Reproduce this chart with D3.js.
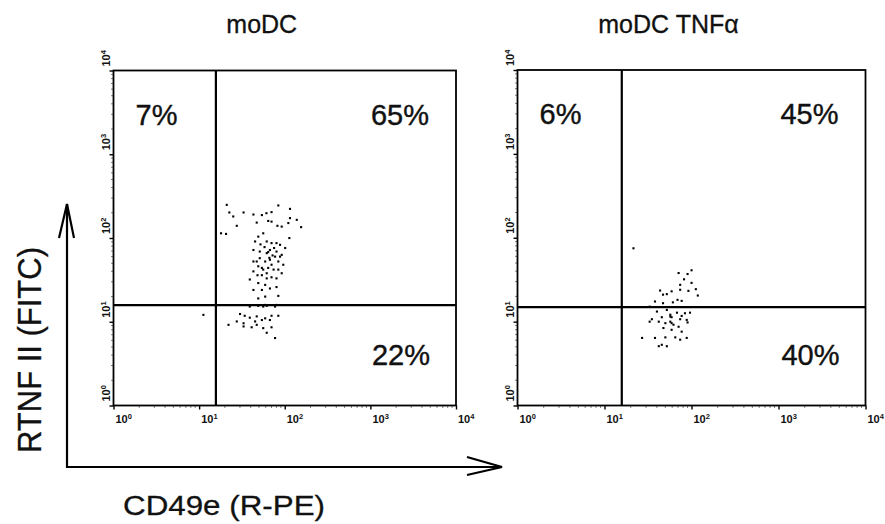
<!DOCTYPE html>
<html>
<head>
<meta charset="utf-8">
<script src="https://cdn.jsdelivr.net/npm/d3@7"></script>
<style>
  html, body { margin: 0; padding: 0; background: #fff; }
  svg { display: block; font-family: "Liberation Sans", Arial, Helvetica, sans-serif; }
</style>
</head>
<body>
<script>
// ---------------- DATA ----------------
const panelTitles = ["moDC", "moDC TNFα"];
const tickValues = [1, 10, 100, 1000, 10000];
const tickExponents = ["0", "1", "2", "3", "4"];
const gateX = [15.7, 15.8];
const gateY = [15.8, 14.9];
const pctUpperLeft = ["7%", "6%"];
const pctUpperRight = ["65%", "45%"];
const pctLowerRight = ["22%", "40%"];
const xAxisTitle = "CD49e (R-PE)";
const yAxisTitle = "RTNF II (FITC)";

// events [CD49e, RTNF II] — moDC
const eventsMoDC = [
  [21,249],[22.5,202],[25,181],[33,202],[43,191],[54,188],[61,198],[70,204],[84,245],[115,223],
  [138,165],[155,135],[115,173],[110,151],[92,137],[82,140],[70,157],[64,160],[47,153],[27.5,140],
  [18,114],[20.6,112],[56,114],[49,104],[45,91],[61.5,91],[70,87],[80,87],[88,83],[101,76],
  [113,100],[43,72],[51,69],[61.5,66],[67,72],[80,69],[92,63],[77,60],[51,57.5],[47,52.5],
  [59,52.5],[67,55],[84,52.5],[96,48],[49,46],[56,42],[64,44],[74,42],[84,42],[92,38],
  [43,40],[54,36],[61.5,33],[70,34],[80,33],[39,32],[49,29],[59,27.6],[67,25],[43,24],
  [54,24],[80,26],[49,19],[59,20],[84,20.4],[39,15.2],[49,15.5],[59,15.9],[80,15.9],[30,12.4],
  [34,11.8],[39,11.2],[47,11.6],[59,11],[70,11.8],[84,11.8],[27.5,10.1],[33,9.6],[45,10.1],[54,10.5],
  [67,10.5],[33,8.8],[41,8.6],[47,9.2],[56,8.4],[70,8.6],[61.5,7.4],[77,6.4],[11.2,12.1],[22,9.2],
  [56,15.2],[61.5,15.5],[77,15.2],[70,48],[54,44],[88,60],[43,52.5],[61.5,38],[64,68],[72,62],
  [58,78],[52,84],[75,76],[66,58],[48,36]
];
// events [CD49e, RTNF II] — moDC TNFα
const eventsTNF = [
  [21.5,75],[100,41],[90,37],[71,38],[82,32],[100,29],[74,27.5],[112,24.4],[92,23.3],[74,24],
  [43.5,23.5],[118,20.5],[52,21.3],[59,23],[47,21],[69,18.2],[77,17.7],[61,17],[47,16.6],[38,17.4],
  [33,15.1],[52,13.8],[40,13.2],[68,12.8],[84,12.6],[96,12.8],[57,12.1],[77,11.7],[45.5,11.3],[35,10.7],
  [59,11.3],[74,10.7],[88,10.5],[57,10],[42,10],[33,10],[50,9.6],[62,9.2],[90,9.8],[47.5,8.4],
  [71,8.7],[77,7.6],[59,8],[27,6.4],[38,6.4],[50,6.5],[65,6.5],[88,6.4],[74,6.1],[45.5,5.3],
  [52,5.1],[42,5.1],[57,11.5],[59,9.6]
];
const panelEvents = [eventsMoDC, eventsTNF];

// ---------------- LAYOUT ----------------
const W = 885, H = 524;
const boxes = [
  { x0: 113.5, x1: 456, y0: 70.5, y1: 405.5 },
  { x0: 517.5, x1: 865.5, y0: 70, y1: 405.5 }
];

const svg = d3.select("body").append("svg")
  .attr("width", W).attr("height", H).attr("viewBox", `0 0 ${W} ${H}`);

svg.append("rect").attr("width", W).attr("height", H).attr("fill", "#fff");

boxes.forEach((b, i) => {
  const x = d3.scaleLog().domain([1, 10000]).range([b.x0, b.x1]);
  const y = d3.scaleLog().domain([1, 10000]).range([b.y1, b.y0]);
  const g = svg.append("g");

  // title
  g.append("text")
    .attr("x", (b.x0 + b.x1) / 2 - 23)
    .attr("y", 33)
    .attr("text-anchor", "middle")
    .attr("font-size", 25)
    .attr("fill", "#111").attr("stroke", "#111").attr("stroke-width", 0.3)
    .text(panelTitles[i]);

  // frame
  g.append("rect")
    .attr("x", b.x0).attr("y", b.y0)
    .attr("width", b.x1 - b.x0).attr("height", b.y1 - b.y0)
    .attr("fill", "none").attr("stroke", "#000").attr("stroke-width", 1.8);

  // minor ticks
  const minors = [];
  for (let d = 1; d < 10000; d *= 10) for (let k = 2; k <= 9; k++) minors.push(d * k);
  g.selectAll(".mx").data(minors).join("line")
    .attr("x1", d => x(d)).attr("x2", d => x(d))
    .attr("y1", b.y1).attr("y2", b.y1 + 2.5)
    .attr("stroke", "#000").attr("stroke-width", 1).attr("stroke-dasharray", "1,1");
  g.selectAll(".my").data(minors).join("line")
    .attr("y1", d => y(d)).attr("y2", d => y(d))
    .attr("x1", b.x0).attr("x2", b.x0 - 2.5)
    .attr("stroke", "#000").attr("stroke-width", 1).attr("stroke-dasharray", "1,1");

  // major ticks via axes
  const ax = d3.axisBottom(x).tickValues(tickValues).tickSize(4).tickFormat("");
  const ay = d3.axisLeft(y).tickValues(tickValues).tickSize(4).tickFormat("");
  const gx = g.append("g").attr("transform", `translate(0,${b.y1})`).call(ax);
  const gy = g.append("g").attr("transform", `translate(${b.x0},0)`).call(ay);
  [gx, gy].forEach(a => {
    a.select(".domain").remove();
    a.selectAll("line").attr("stroke", "#000").attr("stroke-width", 1.4);
  });

  // x tick labels
  tickValues.forEach((v, k) => {
    const t = g.append("text")
      .attr("x", x(v) + 2).attr("y", b.y1 + 17)
      .attr("font-size", 11).attr("font-weight", "bold").attr("fill", "#111");
    t.append("tspan").text("10");
    t.append("tspan").attr("font-size", 7.5).attr("dy", -4).text(tickExponents[k]);
  });
  // y tick labels (rotated)
  tickValues.forEach((v, k) => {
    const t = g.append("text")
      .attr("transform", `translate(${b.x0 - 4},${y(v) - 4}) rotate(-90)`)
      .attr("font-size", 11).attr("font-weight", "bold").attr("fill", "#111");
    t.append("tspan").text("10");
    t.append("tspan").attr("font-size", 7.5).attr("dy", -4).text(tickExponents[k]);
  });

  // events
  g.selectAll(".ev").data(panelEvents[i]).join("rect")
    .attr("x", d => x(d[0]) - 1).attr("y", d => y(d[1]) - 1)
    .attr("width", 2.1).attr("height", 2.1)
    .attr("fill", "#000");

  // gates
  g.append("line")
    .attr("x1", x(gateX[i])).attr("x2", x(gateX[i]))
    .attr("y1", b.y0).attr("y2", b.y1)
    .attr("stroke", "#000").attr("stroke-width", 2.2);
  g.append("line")
    .attr("x1", b.x0).attr("x2", b.x1)
    .attr("y1", y(gateY[i])).attr("y2", y(gateY[i]))
    .attr("stroke", "#000").attr("stroke-width", 2.2);

  // quadrant percentages
  const pctFont = 29;
  const pct = (xx, yy, anchor, txt) => g.append("text").attr("x", xx).attr("y", yy)
    .attr("text-anchor", anchor).attr("font-size", pctFont)
    .attr("fill", "#111").attr("stroke", "#111").attr("stroke-width", 0.4).text(txt);
  pct(b.x0 + 22, b.y0 + 54, "start", pctUpperLeft[i]);
  pct(b.x1 - 27, b.y0 + 54, "end", pctUpperRight[i]);
  pct(b.x1 - 26, b.y1 - 41, "end", pctLowerRight[i]);
});

// ---------------- AXIS ARROWS & TITLES ----------------
const ag = svg.append("g").attr("stroke", "#000").attr("stroke-width", 2.2).attr("fill", "none");
const ox = 67, oy = 467, topY = 204, rightX = 502;
ag.append("path").attr("d", `M${ox},${topY} L${ox},${oy} L${rightX},${oy}`);
ag.append("path").attr("d", `M${ox - 8},${topY + 34} L${ox},${topY} L${ox + 7},${topY + 34}`);
ag.append("path").attr("d", `M${rightX - 35},${oy - 10} L${rightX},${oy} L${rightX - 35},${oy + 8}`);

svg.append("text")
  .attr("transform", `translate(41,350) rotate(-90)`)
  .attr("text-anchor", "middle")
  .attr("font-size", 34)
  .attr("textLength", 206).attr("lengthAdjust", "spacingAndGlyphs")
  .attr("fill", "#111").attr("stroke", "#111").attr("stroke-width", 0.3)
  .text(yAxisTitle);

svg.append("text")
  .attr("x", 123).attr("y", 515)
  .attr("font-size", 27)
  .attr("textLength", 202).attr("lengthAdjust", "spacingAndGlyphs")
  .attr("fill", "#111").attr("stroke", "#111").attr("stroke-width", 0.3)
  .text(xAxisTitle);
</script>
</body>
</html>
